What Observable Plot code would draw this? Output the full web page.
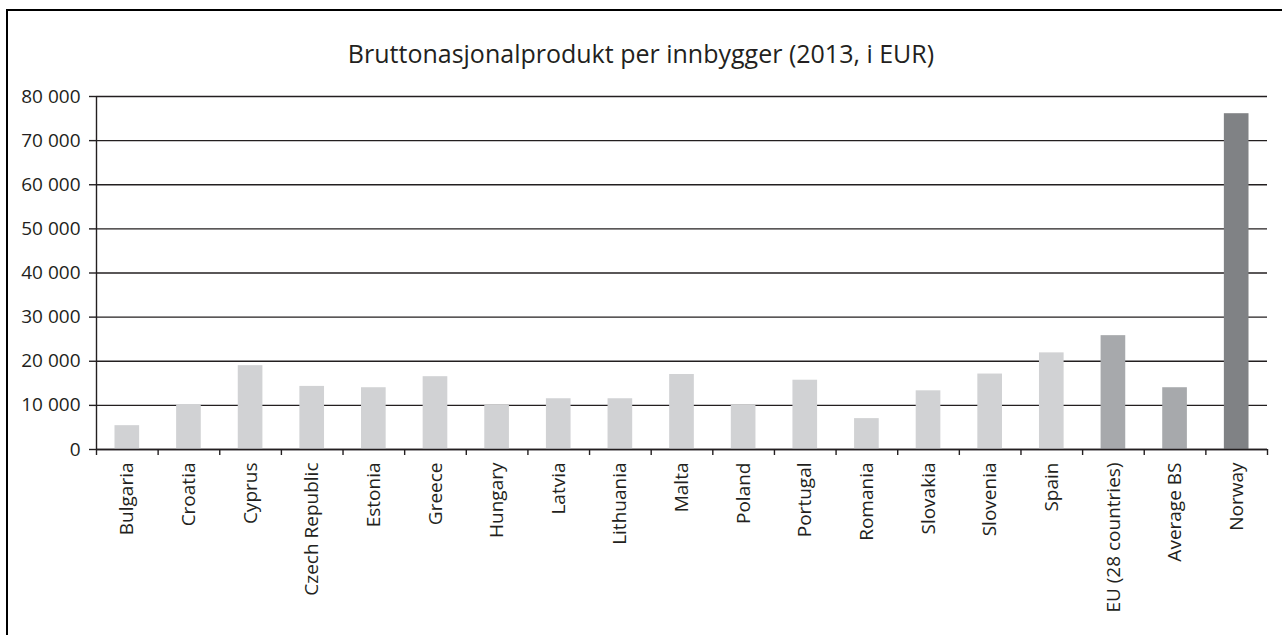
<!DOCTYPE html>
<html>
<head>
<meta charset="utf-8">
<script src="https://cdn.jsdelivr.net/npm/d3@7"></script>
<script src="https://cdn.jsdelivr.net/npm/@observablehq/plot@0.6"></script>
<style>
  html, body { margin: 0; padding: 0; width: 1282px; height: 635px; overflow: hidden; background: #fff; }
  #frame { position: absolute; left: 6px; top: 9px; width: 1300px; height: 660px; border: 2px solid #000; box-sizing: border-box; z-index: 5; pointer-events: none; }
  #title { position: absolute; left: 0; width: 1282px; top: 41px; line-height: 25px; text-align: center; font-family: "Open Sans", sans-serif; font-size: 25px; color: #231f20; white-space: nowrap; }
  #chart { position: absolute; left: 0; top: 80px; }
  #chart svg text { fill: #231f20; }
</style>
</head>
<body>
<div id="frame"></div>
<div id="title">Bruttonasjonalprodukt per innbygger (2013, i EUR)</div>
<div id="chart"></div>
<script>
const categories = ["Bulgaria", "Croatia", "Cyprus", "Czech Republic", "Estonia", "Greece", "Hungary", "Latvia", "Lithuania", "Malta", "Poland", "Portugal", "Romania", "Slovakia", "Slovenia", "Spain", "EU (28 countries)", "Average BS", "Norway"];
const values = [5400, 10200, 19000, 14300, 14000, 16500, 10000, 11500, 11500, 17000, 10000, 15700, 7000, 13300, 17100, 21900, 25800, 14000, 76100];
const groups = ["BS", "BS", "BS", "BS", "BS", "BS", "BS", "BS", "BS", "BS", "BS", "BS", "BS", "BS", "BS", "BS", "EU", "AVG", "NO"];
const yTicks = [0, 10000, 20000, 30000, 40000, 50000, 60000, 70000, 80000];

const data = categories.map((c, i) => ({category: c, value: values[i], group: groups[i]}));

const W = 1282, H = 555, mL = 96, mR = 15, mT = 16, mB = 186;
const step = (W - mL - mR) / categories.length;
const fmt = d3.formatLocale({thousands: "\u00a0", grouping: [3], decimal: ","}).format(",");
const ink = "#231f20";

const plot = Plot.plot({
  width: W, height: H,
  marginLeft: mL, marginRight: mR, marginTop: mT, marginBottom: mB,
  style: {fontFamily: "'Open Sans', sans-serif", fontSize: "19px", color: ink, background: "transparent"},
  x: {domain: categories, paddingInner: 0.6, paddingOuter: 0.3, round: false, label: null},
  y: {domain: [0, 80000], label: null},
  color: {domain: ["BS", "EU", "AVG", "NO"], range: ["#d1d2d4", "#a7a9ac", "#a7a9ac", "#808285"]},
  marks: [
    Plot.ruleY(yTicks, {stroke: ink, strokeWidth: 1.4, strokeOpacity: 1}),
    Plot.barY(data, {x: "category", y: "value", fill: "group"}),
    Plot.axisY({ticks: yTicks, tickFormat: fmt, tickSize: 7, tickPadding: 9, stroke: ink, strokeWidth: 1.4, fontSize: 19, label: null}),
    Plot.ruleX([categories[0]], {dx: -step / 2, y1: 0, y2: 80000, stroke: ink, strokeWidth: 1.4}),
    Plot.axisX({tickSize: 6, tickFormat: () => "", dx: -step / 2, stroke: ink, strokeWidth: 1.4, label: null}),
    Plot.axisX({ticks: [categories[categories.length - 1]], tickSize: 6, tickFormat: () => "", dx: step / 2, stroke: ink, strokeWidth: 1.4, label: null}),
    Plot.axisX({tickSize: 0, tickRotate: -90, tickPadding: 13, fontSize: 19, label: null}),
    Plot.ruleY([0], {stroke: ink, strokeWidth: 1.4})
  ]
});
document.getElementById("chart").appendChild(plot);
</script>
</body>
</html>
